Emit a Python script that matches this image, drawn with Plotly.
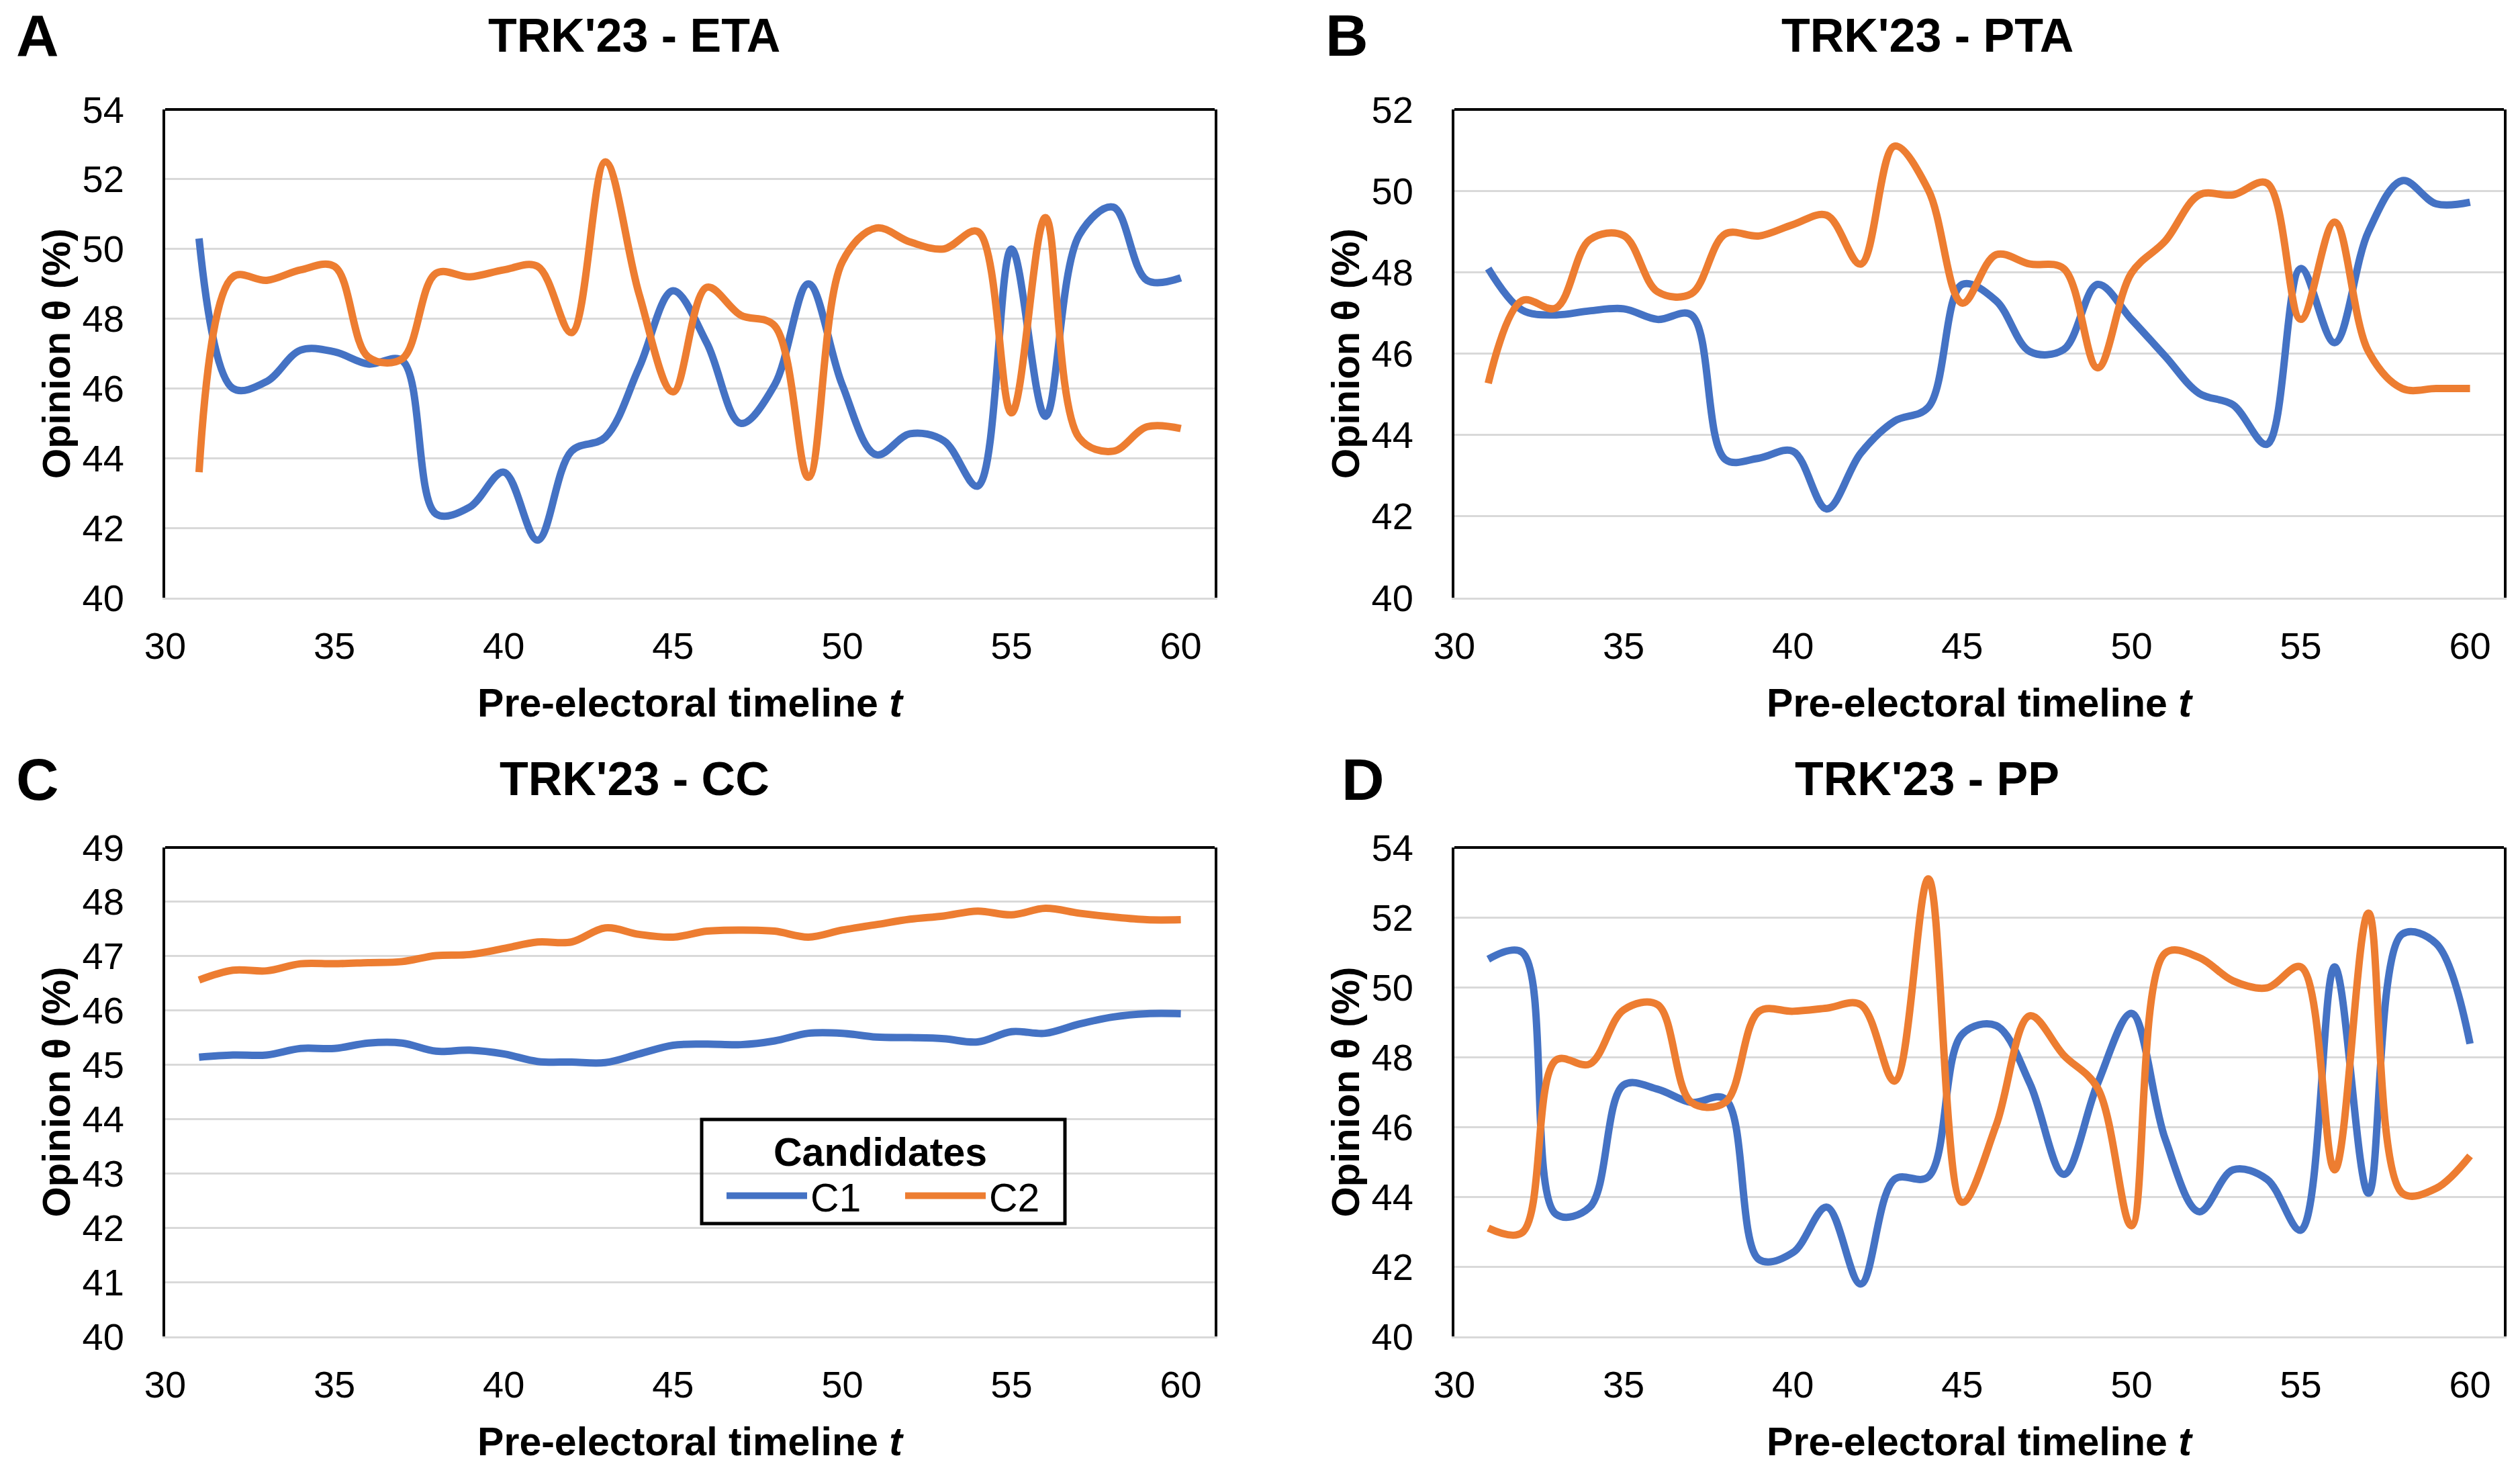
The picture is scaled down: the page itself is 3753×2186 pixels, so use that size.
import plotly.graph_objects as go

W, H = 3753, 2186

t = list(range(31, 61))

# Panel A: TRK'23 - ETA
eta_c1 = [50.3, 46.0, 46.2, 47.1, 47.05, 46.7, 46.8, 42.4, 42.6, 43.6,
          41.65, 44.2, 44.6, 46.6, 48.8, 47.3, 45.0, 46.1, 49.0, 46.1,
          44.1, 44.7, 44.5, 43.2, 50.0, 45.2, 50.4, 51.2, 49.1, 49.17]
eta_c2 = [43.6, 49.2, 49.1, 49.4, 49.5, 46.9, 46.85, 49.3, 49.2, 49.4,
          49.5, 47.6, 52.5, 48.7, 45.9, 48.9, 48.1, 47.8, 43.45, 49.63,
          50.6, 50.2, 50.0, 50.5, 45.3, 50.9, 44.58, 44.2, 44.9, 44.85]

# Panel B: TRK'23 - PTA
pta_c1 = [48.09, 47.07, 46.95, 47.05, 47.1, 46.84, 46.95, 43.4, 43.43, 43.6,
          42.18, 43.55, 44.34, 44.68, 47.7, 47.3, 46.05, 46.1, 47.7, 46.84,
          45.93, 45.02, 44.74, 43.77, 48.09, 46.27, 49.0, 50.25, 49.68, 49.72]
pta_c2 = [45.27, 47.3, 47.12, 48.8, 48.9, 47.52, 47.47, 48.94, 48.89, 49.17,
          49.4, 48.2, 51.1, 50.02, 47.24, 48.43, 48.2, 48.09, 45.65, 47.98,
          48.77, 49.9, 49.9, 50.19, 46.84, 49.23, 46.05, 45.14, 45.14, 45.14]

# Panel C: TRK'23 - CC
cc_c1 = [45.14, 45.18, 45.18, 45.3, 45.3, 45.4, 45.4, 45.25, 45.27, 45.2,
         45.06, 45.05, 45.04, 45.2, 45.36, 45.38, 45.37, 45.44, 45.58, 45.58,
         45.51, 45.5, 45.48, 45.42, 45.61, 45.58, 45.75, 45.88, 45.94, 45.94]
cc_c2 = [46.56, 46.74, 46.73, 46.86, 46.86, 46.88, 46.9, 47.01, 47.03, 47.14,
         47.26, 47.26, 47.52, 47.4, 47.35, 47.46, 47.48, 47.46, 47.35, 47.48,
         47.58, 47.68, 47.74, 47.83, 47.76, 47.88, 47.79, 47.72, 47.67, 47.67]

# Panel D: TRK'23 - PP
pp_c1 = [50.8, 51.0, 43.5, 43.7, 47.2, 47.08, 46.7, 46.8, 42.2, 42.4,
         43.7, 41.5, 44.5, 44.57, 48.65, 48.9, 47.24, 44.64, 47.24, 49.25,
         45.64, 43.57, 44.77, 44.5, 43.04, 50.58, 44.1, 51.52, 51.25, 48.38]
pp_c2 = [43.1, 42.97, 47.91, 47.8, 49.35, 49.5, 46.7, 46.7, 49.31, 49.31,
         49.4, 49.5, 47.31, 53.1, 43.84, 46.04, 49.18, 48.05, 47.11, 43.17,
         50.98, 50.85, 50.18, 49.98, 50.58, 44.77, 52.12, 44.1, 44.24, 45.17]

x_ticks = [30, 35, 40, 45, 50, 55, 60]
x_range = [30, 61]

titles = ["TRK'23 - ETA", "TRK'23 - PTA", "TRK'23 - CC", "TRK'23 - PP"]
letters = ["A", "B", "C", "D"]
series = [(eta_c1, eta_c2), (pta_c1, pta_c2), (cc_c1, cc_c2), (pp_c1, pp_c2)]
y_ranges = [[40, 54], [40, 52], [40, 49], [40, 54]]
y_dticks = [2, 2, 1, 2]

names = ["C1", "C2"]
colors = ["#4472C4", "#ED7D31"]

# layout geometry in pixels
plot_x = [(246, 1809), (2166, 3729), (246, 1809), (2166, 3729)]
plot_y = [(163, 890), (163, 890), (1262, 1990), (1262, 1990)]
title_pos = [(944, 53), (2870, 53), (945, 1160), (2870, 1160)]
letter_pos = [(22, 53), (1972, 53), (22, 1160), (1996, 1160)]
legend_box = (1045, 1667, 1586, 1822)

FONT = "Liberation Sans, Arial, sans-serif"

fig = go.Figure()
layout = dict(
    width=W, height=H,
    margin=dict(l=0, r=0, t=0, b=0, autoexpand=False),
    paper_bgcolor="white", plot_bgcolor="white",
    font=dict(family=FONT, color="black"),
    showlegend=True,
    annotations=[], shapes=[],
)

for i in range(4):
    sfx = "" if i == 0 else str(i + 1)
    xa, ya = "x" + sfx, "y" + sfx
    for j in range(2):
        fig.add_trace(go.Scatter(
            x=t, y=series[i][j], mode="lines", name=names[j],
            line=dict(color=colors[j], width=11, shape="spline", smoothing=1.0),
            xaxis=xa, yaxis=ya, legendgroup=names[j], showlegend=(i == 2),
            hoverinfo="skip",
        ))
    x0, x1 = plot_x[i]
    y0, y1 = plot_y[i]
    layout["xaxis" + sfx] = dict(
        domain=[x0 / W, x1 / W], anchor=ya, range=x_range, automargin=False,
        tickmode="array", tickvals=x_ticks, showgrid=False, zeroline=False,
        showline=True, linecolor="#D9D9D9", linewidth=3,
        ticks="", ticklabelstandoff=21,
        tickfont=dict(size=56, family=FONT, color="black"),
        title=dict(text="<b>Pre-electoral timeline <i>t</i></b>",
                   font=dict(size=59, family=FONT, color="black"), standoff=34),
    )
    layout["yaxis" + sfx] = dict(
        domain=[1 - y1 / H, 1 - y0 / H], anchor=xa, range=y_ranges[i], automargin=False,
        dtick=y_dticks[i], tick0=40, showgrid=True, gridcolor="#D9D9D9", gridwidth=3,
        zeroline=False, showline=True, mirror=True, linecolor="black", linewidth=4,
        ticks="", ticklabelstandoff=46,
        tickfont=dict(size=56, family=FONT, color="black"),
        title=dict(text="<b>Opinion θ (%)</b>",
                   font=dict(size=58, family=FONT, color="black"), standoff=0),
    )
    layout["shapes"].append(dict(
        type="line", xref=xa + " domain", yref=ya + " domain",
        x0=0, x1=1, y0=1, y1=1, line=dict(color="black", width=4),
    ))
    tx, ty = title_pos[i]
    layout["annotations"].append(dict(
        text="<b>" + titles[i] + "</b>", xref="paper", yref="paper",
        x=tx / W, y=1 - ty / H, xanchor="center", yanchor="middle",
        showarrow=False, font=dict(size=70, family=FONT, color="black"),
    ))
    lx, ly = letter_pos[i]
    layout["annotations"].append(dict(
        text="<b>" + letters[i] + "</b>", xref="paper", yref="paper",
        x=lx / W, y=1 - ly / H, xanchor="left", yanchor="middle",
        showarrow=False, font=dict(size=88, family=FONT, color="black"),
    ))

# legend frame (transparent fill, gridlines show through as in the reference)
bx0, by0, bx1, by1 = legend_box
layout["shapes"].append(dict(
    type="rect", xref="paper", yref="paper", layer="above",
    x0=bx0 / W, x1=bx1 / W, y0=1 - by1 / H, y1=1 - by0 / H,
    line=dict(color="black", width=5), fillcolor="rgba(0,0,0,0)",
))

layout["legend"] = dict(
    orientation="h", x=bx0 / W, xanchor="left", y=1 - (by0 - 8) / H, yanchor="top",
    bgcolor="rgba(0,0,0,0)", borderwidth=0,
    title=dict(text="<b>Candidates</b>", side="top center",
               font=dict(size=59, family=FONT, color="black")),
    font=dict(size=59, family=FONT, color="black"),
    itemwidth=120, entrywidth=99, entrywidthmode="pixels",
    indentation=32,
)

fig.update_layout(**layout)
fig.write_html("out.html", config={"displayModeBar": False},
               post_script="document.body.style.margin='0px';")
